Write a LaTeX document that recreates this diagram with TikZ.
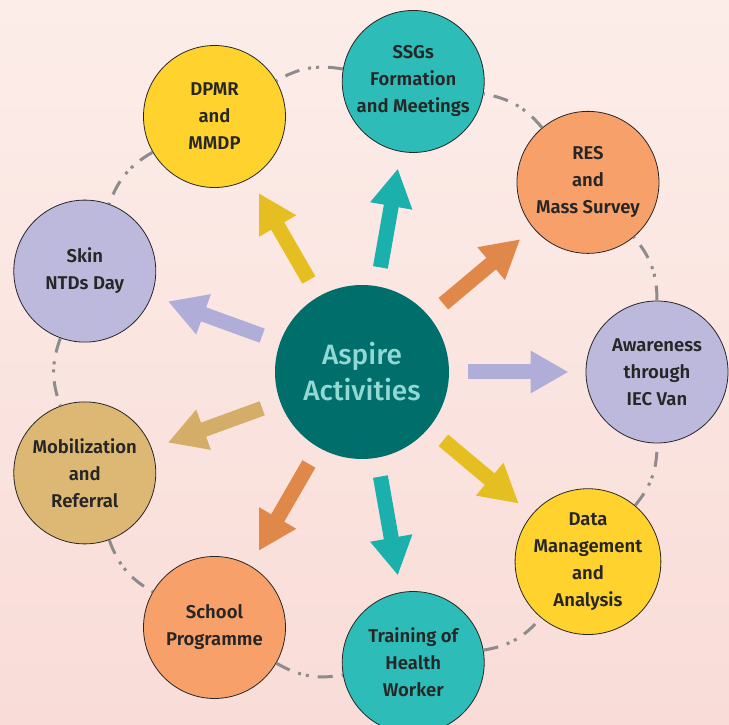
\documentclass[tikz,border=0pt]{standalone}
\usepackage{fontspec}
\setmainfont{Fira Sans}[BoldFont={Fira Sans SemiBold}]
\newfontfamily\hubfont{Fira Sans Medium}
\usetikzlibrary{arrows.meta,shapes}
\newcommand{\ringr}{295}
\newcommand{\actsize}{142pt}
\newcommand{\hubsize}{174pt}

\definecolor{bgtop}{HTML}{FCEDE9}
\definecolor{bgbot}{HTML}{F9DCD7}
\definecolor{inkc}{HTML}{262626}
\definecolor{hubc}{HTML}{006E6B}
\definecolor{hubtext}{HTML}{92D8D4}
\definecolor{tealc}{HTML}{2DBCB7}
\definecolor{tealarr}{HTML}{1BB0AB}
\definecolor{orangec}{HTML}{F8A06A}
\definecolor{orangearr}{HTML}{E0874A}
\definecolor{lavc}{HTML}{BDB9DD}
\definecolor{lavarr}{HTML}{B0AED8}
\definecolor{yellowc}{HTML}{FFD22E}
\definecolor{goldarr}{HTML}{E5BF22}
\definecolor{tanc}{HTML}{DDB874}
\definecolor{tanarr}{HTML}{D4AE68}
\definecolor{ringc}{HTML}{8C8C8C}

\tikzset{
  act/.style={circle, draw=inkc, line width=0.8pt, minimum size=\actsize,
    inner sep=0pt, align=center, text=inkc,
    font=\fontsize{18.5}{27}\selectfont\bfseries},
  hub/.style={circle, fill=hubc, minimum size=\hubsize, inner sep=0pt,
    align=center, text=hubtext, font=\hubfont\fontsize{28}{36}\selectfont},
  ring/.style={draw=ringc, line width=3pt,
    dash pattern=on 15pt off 9pt on 3pt off 5pt on 3pt off 9pt},
  push/.style={line width=15pt, -{Triangle[length=38pt,width=40pt]},
    shorten <=19pt, shorten >=17pt}
}

\begin{document}
\begin{tikzpicture}[x=1pt,y=1pt]
    % background, clipped to the frame
    \useasboundingbox (-362,-353) rectangle (367,372);
    \clip (-362,-353) rectangle (367,372);
    \shade[top color=bgtop, bottom color=bgbot] (-362,-353) rectangle (367,372);

    \node[hub] (hub) at (0,0) {Aspire\\Activities};

    \foreach \i/\ang/\fc/\ac/\txt in {
        0/0/lavc/lavarr/{Awareness\\through\\IEC Van},
        1/40/orangec/orangearr/{RES\\and\\Mass Survey},
        2/80/tealc/tealarr/{SSGs\\Formation\\and Meetings},
        3/120/yellowc/goldarr/{DPMR\\and\\MMDP},
        4/160/lavc/lavarr/{Skin\\NTDs Day},
        5/200/tanc/tanarr/{Mobilization\\and\\Referral},
        6/240/orangec/orangearr/{School\\Programme},
        7/280/tealc/tealarr/{Training of\\Health\\Worker},
        8/320/yellowc/goldarr/{Data\\Management\\and\\Analysis}}
    {
        \node[act, fill=\fc] (n\i) at (\ang:\ringr) {\txt};
        \draw[push, draw=\ac] (hub) -- (n\i);
    }

    % dashed ring between neighbours
    \foreach \i in {0,...,8} {
        \pgfmathtruncatemacro{\j}{mod(\i+1,9)}
        \draw[ring] (n\i) to[bend right=20] (n\j);
    }
\end{tikzpicture}
\end{document}
